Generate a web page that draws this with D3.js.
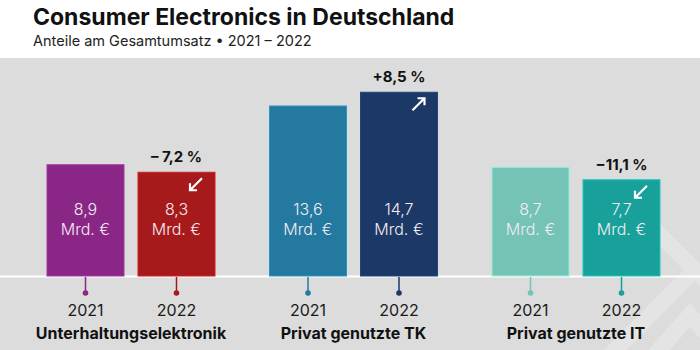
<!DOCTYPE html>
<html>
<head>
<meta charset="utf-8">
<script src="https://cdn.jsdelivr.net/npm/d3@7"></script>
<style>
  body { margin: 0; background: #fff; }
  svg { display: block; font-family: Inter, "Noto Sans", sans-serif; }
</style>
</head>
<body>
<div class="box"></div>
<script>
// Daten
const groups = ['Unterhaltungselektronik', 'Privat genutzte TK', 'Privat genutzte IT'];
const years = ['2021', '2022'];
const values2021 = [8.9, 13.6, 8.7];
const values2022 = [8.3, 14.7, 7.7];
const changes = ['– 7,2 %', '+8,5 %', '−11,1 %'];
const colors2021 = ['#8a2786', '#23799f', '#74c3b5'];
const colors2022 = ['#a71a1c', '#1c3866', '#18a09a'];

const width = 700, height = 350;
const svg = d3.select('.box')
              .append('svg')
              .attr('width', width)
              .attr('height', height);

// Hintergrund
svg.append('rect')
   .attr('x', 0).attr('y', 58)
   .attr('width', width).attr('height', height - 58)
   .attr('fill', '#dcdcdc');

// dekoratives Wasserzeichen unten rechts
const deco = svg.append('g')
                .attr('fill', 'none')
                .attr('stroke', '#e4e4e4')
                .attr('stroke-width', 16);
deco.append('path').attr('d', 'M605,360 L700,265');
deco.append('path').attr('d', 'M640,215 L720,295');
deco.append('path').attr('d', 'M650,360 L690,315 L730,360');

// Titel
svg.append('text')
   .attr('x', 33).attr('y', 25)
   .attr('font-size', 23).attr('font-weight', 700)
   .attr('fill', '#111')
   .text('Consumer Electronics in Deutschland');
svg.append('text')
   .attr('x', 33).attr('y', 46)
   .attr('font-size', 14.5).attr('fill', '#222')
   .text('Anteile am Gesamtumsatz • 2021 – 2022');

// Skalen
const baseY = 276;
const y = d3.scaleLinear().domain([0, 1]).range([baseY, baseY - 12.5]);

const x0 = d3.scaleBand()
             .domain(groups)
             .range([47, 660])
             .paddingInner(0.245)
             .paddingOuter(0);
const x1 = d3.scaleBand()
             .domain(years)
             .range([0, x0.bandwidth()])
             .paddingInner(0.154)
             .paddingOuter(0);

const data = [];
groups.forEach((g, i) => {
  data.push({group: g, year: '2021', value: values2021[i], color: colors2021[i]});
  data.push({group: g, year: '2022', value: values2022[i], color: colors2022[i], change: changes[i]});
});

const bx = d => x0(d.group) + x1(d.year);
const cx = d => bx(d) + x1.bandwidth() / 2;

// Basislinie
svg.append('line')
   .attr('x1', 0).attr('x2', width)
   .attr('y1', baseY + 0.5).attr('y2', baseY + 0.5)
   .attr('stroke', '#fff').attr('stroke-width', 2);

// Balken
svg.selectAll('rect.bar')
   .data(data)
   .enter()
   .append('rect')
   .attr('class', 'bar')
   .attr('x', d => bx(d))
   .attr('y', d => y(d.value))
   .attr('width', x1.bandwidth())
   .attr('height', d => baseY - y(d.value))
   .attr('fill', d => d.color)
   .attr('stroke', d => d3.color(d.color).brighter(0.6))
   .attr('stroke-width', 1);

// Werte in den Balken
const lbl = svg.selectAll('g.lbl')
               .data(data)
               .enter()
               .append('g')
               .attr('class', 'lbl')
               .attr('text-anchor', 'middle')
               .attr('font-size', 16)
               .attr('font-weight', 300)
               .attr('fill', '#f4ecf2');
lbl.append('text')
   .attr('x', cx).attr('y', 215)
   .text(d => d3.format('.1f')(d.value).replace('.', ','));
lbl.append('text')
   .attr('x', cx).attr('y', 235)
   .text('Mrd. €');

// Veränderung über den 2022er Balken
const d22 = data.filter(d => d.year === '2022');
svg.selectAll('text.chg')
   .data(d22)
   .enter()
   .append('text')
   .attr('class', 'chg')
   .attr('x', cx)
   .attr('y', d => y(d.value) - 10)
   .attr('text-anchor', 'middle')
   .attr('font-size', 15).attr('font-weight', 700)
   .attr('fill', '#111')
   .text(d => d.change);

// Pfeile
const arrows = svg.selectAll('g.arrow')
                  .data(d22)
                  .enter()
                  .append('g')
                  .attr('class', 'arrow')
                  .attr('transform', d => `translate(${bx(d) + x1.bandwidth() - 19}, ${y(d.value) + 12})`)
                  .attr('stroke', '#fff')
                  .attr('stroke-width', 2.2)
                  .attr('fill', 'none');
arrows.append('path')
      .attr('d', d => d.change.startsWith('+')
            ? 'M-6,6 L6,-6 M-1,-6 L6,-6 L6,1'
            : 'M6,-6 L-6,6 M-6,-1 L-6,6 L1,6');

// Ticks unter der Basislinie
svg.selectAll('line.tick')
   .data(data)
   .enter()
   .append('line')
   .attr('x1', cx).attr('x2', cx)
   .attr('y1', baseY + 1).attr('y2', baseY + 16)
   .attr('stroke', d => d.color).attr('stroke-width', 1.5);
svg.selectAll('circle.dot')
   .data(data)
   .enter()
   .append('circle')
   .attr('cx', cx).attr('cy', baseY + 17)
   .attr('r', 2.8)
   .attr('fill', d => d.color);

// Jahreszahlen
svg.selectAll('text.year')
   .data(data)
   .enter()
   .append('text')
   .attr('x', cx).attr('y', 316)
   .attr('text-anchor', 'middle')
   .attr('font-size', 16)
   .attr('fill', '#1a1a1a')
   .text(d => d.year);

// Gruppennamen
svg.selectAll('text.group')
   .data(groups)
   .enter()
   .append('text')
   .attr('x', g => x0(g) + x0.bandwidth() / 2)
   .attr('y', 339)
   .attr('text-anchor', 'middle')
   .attr('font-size', 16).attr('font-weight', 700)
   .attr('fill', '#111')
   .text(g => g);
</script>
</body>
</html>
